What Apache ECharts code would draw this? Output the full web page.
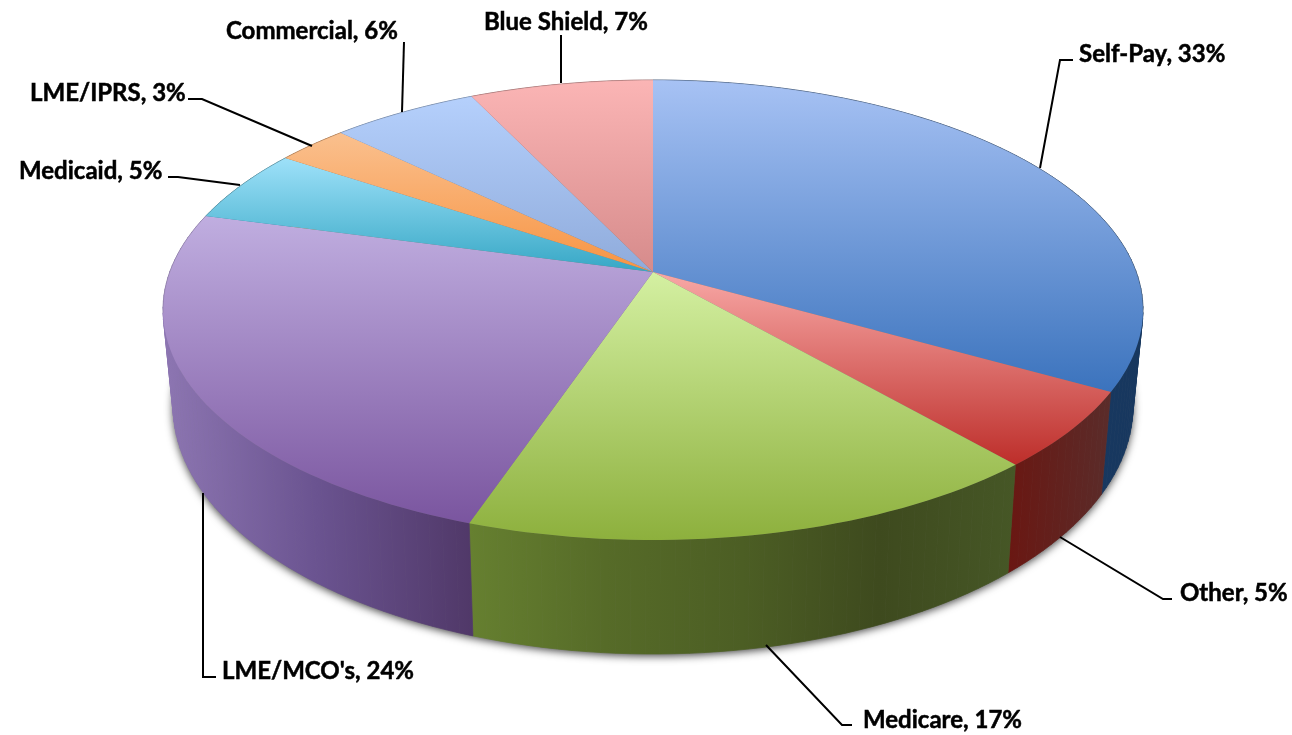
<!DOCTYPE html>
<html><head><meta charset="utf-8">
<style>html,body{margin:0;padding:0;background:#fff}#c{width:1292px;height:735px}</style>
<script src="https://cdn.jsdelivr.net/npm/echarts@6/dist/echarts.min.js"></script>
</head><body><div id="c"></div>
<script>
// ---- data ----
var categories = ['Self-Pay','Other','Medicare',"LME/MCO's",'Medicaid','LME/IPRS','Commercial','Blue Shield'];
var values = [33.2,5.4,16.6,24.0,5.2,2.8,5.7,7.1];

// ---- styles ----
var topColors = [['#A7C2F4','#3B73BD'],['#F8A8A6','#BD2E2A'],['#D4F0A2','#8DB03D'],['#C0AEE0','#7A559F'],
                 ['#9EE1F9','#36A7C5'],['#FAC08E','#F79443'],['#B5D0FC','#8FABDB'],['#FBB5B5','#D68B8B']];
var wallColors = [['#1F4272','#17375E'],['#6A1712','#5A2C2A'],['#668030','#566B28','#4C5E24','#3E4A1E','#465726'],['#8D76B2','#6A5390','#503868'],
                  ['#2A7F96','#2A7F96'],['#B5682A','#B5682A'],['#5E7CA8','#5E7CA8'],['#A05A5A','#A05A5A']];
var topDisk  = {cx:653, cy:310, rx:490, ry:230, apex:0.165};
var baseDisk = {cx:653, cy:406, rx:480, ry:248};
// label layout: text anchor and elbow path, in page pixels
var labelLayout = [
  {x:1079,y:54, path:[[1040,168],[1060,60],[1073,60]]},
  {x:1180,y:593,path:[[1060,537],[1163,599],[1172,599]]},
  {x:863, y:720,path:[[766,645],[842,725],[852,725]]},
  {x:222, y:671,path:[[203,493],[203,677],[216,677]]},
  {x:19,  y:171,path:[[240,185],[178,177],[168,177]]},
  {x:30,  y:93, path:[[312,146],[202,99],[188,99]]},
  {x:226, y:31, path:[[402,112],[404,42]]},
  {x:484, y:22, path:[[561,83],[561,35]]}
];

var total = values.reduce(function(a,b){return a+b;},0);
var cum = [0];
values.forEach(function(v,i){cum.push(cum[i]+v);});

function norm(frac){ // fraction of the turn -> normalised point on the perspective rim
  var t = frac*2*Math.PI, u = Math.sin(t), v = Math.cos(t), a = topDisk.apex;
  var d = 1+a*v;
  return [u*Math.sqrt(1-a*a)/d, (v+a)/d];
}
function onDisk(n,D){ return [D.cx+n[0]*D.rx, D.cy-n[1]*D.ry]; }
function rim(i){
  var s = cum[i]/total, e = cum[i+1]/total, n = Math.max(12,Math.ceil((e-s)*240)), out=[];
  for(var k=0;k<=n;k++) out.push(norm(s+(e-s)*k/n));
  return out;
}
function grad(cols,horizontal){
  var st = cols.map(function(c,i){return {offset:i/(cols.length-1),color:c};});
  return new echarts.graphic.LinearGradient(0,0,horizontal?1:0,horizontal?0:1,st);
}
var dataIdx = categories.map(function(c,i){return [i];});

function shadowItem(p,api){
  var pts=[]; for(var k=0;k<=240;k++) pts.push(onDisk(norm(k/240),baseDisk));
  return {type:'polygon',shape:{points:pts},style:{fill:'#777',shadowBlur:9,shadowColor:'rgba(0,0,0,0.75)',shadowOffsetY:2,shadowOffsetX:0},silent:true};
}
function wallItem(p,api){
  var i=api.value(0), r=rim(i);
  var a=r.map(function(n){return onDisk(n,topDisk);});
  var b=r.map(function(n){return onDisk(n,baseDisk);});
  var xs=a.concat(b).map(function(q){return q[0];});
  var x0=Math.min.apply(null,xs), x1=Math.max.apply(null,xs);
  var st=wallColors[i].map(function(c,j,l){return {offset:j/(l.length-1),color:c};});
  var fill=new echarts.graphic.LinearGradient(x0,0,x1,0,st,true);
  var kids=[];
  for(var k=0;k<r.length-1;k++){
    kids.push({type:'polygon',shape:{points:[a[k],a[k+1],b[k+1],b[k]]},style:{fill:fill,stroke:fill,lineWidth:0.7}});
  }
  return {type:'group',children:kids};
}
function topItem(p,api){
  var i=api.value(0), r=rim(i);
  var pts=[onDisk([0,topDisk.apex],topDisk)].concat(r.map(function(n){return onDisk(n,topDisk);}));
  return {type:'polygon',shape:{points:pts},style:{fill:grad(topColors[i],false)}};
}
function edgeItem(p,api){
  var i=api.value(0), r=rim(i).filter(function(n){return n[1]>-0.02;});
  if(r.length<2) return null;
  return {type:'polyline',shape:{points:r.map(function(n){return onDisk(n,topDisk);})},style:{fill:null,stroke:'rgba(90,90,90,0.2)',lineWidth:1}};
}
function leaderItem(p,api){
  var i=api.value(0), L=labelLayout[i];
  return {type:'group',children:[
    {type:'polyline',shape:{points:L.path},style:{fill:null,stroke:'#000',lineWidth:2}},
    {type:'text',style:{x:L.x,y:L.y,text:categories[i]+', '+Math.round(values[i])+'%',
      font:'bold 24px Lato',fill:'#000',stroke:'#000',lineWidth:0.5,align:'left',verticalAlign:'middle'}}
  ]};
}
function ser(fn,name){return {type:'custom',name:name,coordinateSystem:'none',renderItem:fn,data:dataIdx,animation:false,silent:true,clip:false};}
var chart = echarts.init(document.getElementById('c'),null,{renderer:'canvas'});
chart.setOption({
  animation:false,backgroundColor:'#fff',
  series:[
    {type:'custom',name:'shadow',coordinateSystem:'none',renderItem:shadowItem,data:[[0]],animation:false,silent:true},
    ser(wallItem,'walls'),ser(topItem,'tops'),ser(edgeItem,'edge'),ser(leaderItem,'labels')
  ]
});
</script></body></html>
